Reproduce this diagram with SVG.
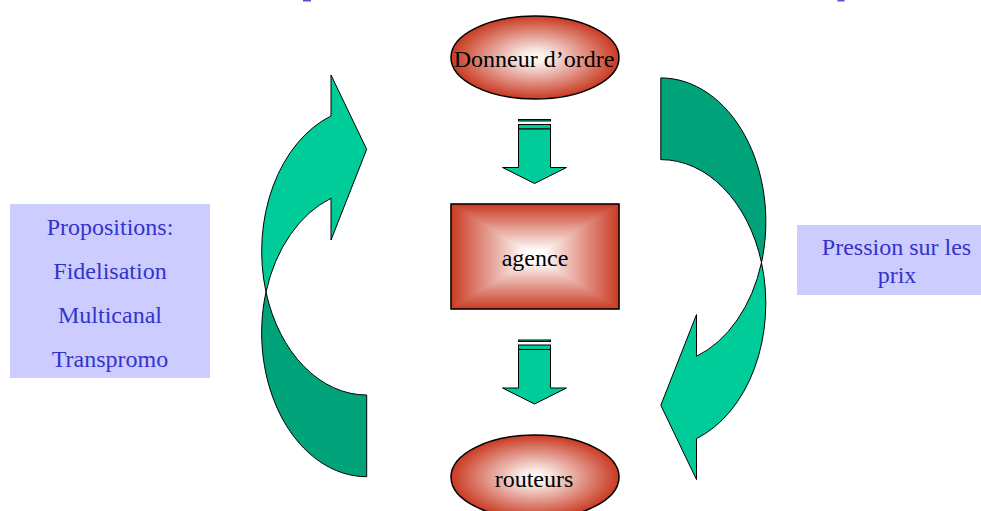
<svg xmlns="http://www.w3.org/2000/svg" width="981" height="511" viewBox="0 0 981 511">
  <defs>
    <radialGradient id="ellGrad" cx="50%" cy="50%" r="50%">
      <stop offset="0" stop-color="#FFFFFF"/>
      <stop offset="0.2" stop-color="#F7E4E0"/>
      <stop offset="1" stop-color="#C93A22"/>
    </radialGradient>
    <radialGradient id="rectBase" cx="50%" cy="50%" r="60%">
      <stop offset="0" stop-color="#FFFFFF"/>
      <stop offset="1" stop-color="#C93A22"/>
    </radialGradient>
    <linearGradient id="gTop" gradientUnits="userSpaceOnUse" x1="0" y1="204" x2="0" y2="256.5">
      <stop offset="0" stop-color="#C93A22"/><stop offset="0.9" stop-color="#FFFFFF"/>
    </linearGradient>
    <linearGradient id="gBot" gradientUnits="userSpaceOnUse" x1="0" y1="309" x2="0" y2="256.5">
      <stop offset="0" stop-color="#C93A22"/><stop offset="0.9" stop-color="#FFFFFF"/>
    </linearGradient>
    <linearGradient id="gLeft" gradientUnits="userSpaceOnUse" x1="451" y1="0" x2="535" y2="0">
      <stop offset="0" stop-color="#C93A22"/><stop offset="0.9" stop-color="#FFFFFF"/>
    </linearGradient>
    <linearGradient id="gRight" gradientUnits="userSpaceOnUse" x1="619" y1="0" x2="535" y2="0">
      <stop offset="0" stop-color="#C93A22"/><stop offset="0.9" stop-color="#FFFFFF"/>
    </linearGradient>
  </defs>
  <style>
    .lbl { font-family: "Liberation Serif", "Times New Roman", serif; font-size: 24px; fill: #000000; text-anchor: middle; }
    .blue { font-family: "Liberation Serif", "Times New Roman", serif; font-size: 24px; fill: #3333CC; text-anchor: middle; }
    .note { fill: #CCCCFF; stroke: none; }
    .ell { fill: url(#ellGrad); stroke: #000000; stroke-width: 1.5; }
    .arr { fill: #00CC99; stroke: #000000; stroke-width: 1; stroke-linejoin: miter; }
    .dark { fill: #00A37A; stroke: #000000; stroke-width: 1; }
    .light { fill: #00CC99; stroke: #000000; stroke-width: 1; }
  </style>
  <rect width="981" height="511" fill="#FFFFFF"/>

  <!-- cut-off title fragments -->
  <rect x="303" y="0" width="8" height="1.5" fill="#5555CC"/>
  <rect x="837.5" y="0" width="7" height="1.5" fill="#5555CC"/>

  <g id="connectors">
    <g id="arrow-down-1">
      <rect class="arr" x="518.5" y="119.5" width="32" height="1.5"/>
      <rect class="arr" x="518.5" y="124.5" width="32" height="4.5"/>
      <path class="arr" d="M518.5,129 L550.5,129 L550.5,167.5 L566.5,167.5 L534.5,183.5 L502.5,167.5 L518.5,167.5 Z"/>
    </g>
    <g id="arrow-down-2" transform="translate(0,220.5)">
      <rect class="arr" x="518.5" y="119.5" width="32" height="1.5"/>
      <rect class="arr" x="518.5" y="124.5" width="32" height="4.5"/>
      <path class="arr" d="M518.5,129 L550.5,129 L550.5,167.5 L566.5,167.5 L534.5,183.5 L502.5,167.5 L518.5,167.5 Z"/>
    </g>
    <g id="curved-left">
      <path class="dark" d="M366.7,476.7 L366.7,395 A105 143.8 0 0 1 266,292 A105 143.8 0 0 0 366.7,476.7 Z"/>
      <path class="light" d="M331,116 L331,75 L366.7,149.3 L331,240 L331,198.3 A105 143.8 0 0 0 266,292 A105 143.8 0 0 1 331,116 Z"/>
    </g>
    <g id="curved-right" transform="translate(1027.5,554.6) rotate(180)">
      <path class="dark" d="M366.7,476.7 L366.7,395 A105 143.8 0 0 1 266,292 A105 143.8 0 0 0 366.7,476.7 Z"/>
      <path class="light" d="M331,116 L331,75 L366.7,149.3 L331,240 L331,198.3 A105 143.8 0 0 0 266,292 A105 143.8 0 0 1 331,116 Z"/>
    </g>
  </g>

  <g id="donneur">
    <ellipse class="ell" cx="535" cy="57.5" rx="84" ry="41.5"/>
    <text class="lbl" x="534" y="67">Donneur d’ordre</text>
  </g>

  <g id="agence">
    <rect x="451" y="204" width="168" height="105" fill="url(#rectBase)"/>
    <g stroke-width="0.6">
      <polygon points="451,204 619,204 535,256.5" fill="url(#gTop)" stroke="url(#gTop)"/>
      <polygon points="451,309 619,309 535,256.5" fill="url(#gBot)" stroke="url(#gBot)"/>
      <polygon points="451,204 451,309 535,256.5" fill="url(#gLeft)" stroke="url(#gLeft)"/>
      <polygon points="619,204 619,309 535,256.5" fill="url(#gRight)" stroke="url(#gRight)"/>
    </g>
    <rect x="451" y="204" width="168" height="105" fill="none" stroke="#000000" stroke-width="1.5"/>
    <text class="lbl" x="535" y="266">agence</text>
  </g>

  <g id="routeurs">
    <ellipse class="ell" cx="535" cy="477" rx="84" ry="42"/>
    <text class="lbl" x="534" y="487">routeurs</text>
  </g>

  <g id="propositions">
    <rect class="note" x="10" y="204" width="200" height="174"/>
    <text class="blue" x="110" y="235">Propositions:</text>
    <text class="blue" x="110" y="279">Fidelisation</text>
    <text class="blue" x="110" y="323">Multicanal</text>
    <text class="blue" x="110" y="367">Transpromo</text>
  </g>

  <g id="pression">
    <rect class="note" x="797" y="225" width="184" height="70"/>
    <text class="blue" x="896.5" y="255">Pression sur les</text>
    <text class="blue" x="897" y="283">prix</text>
  </g>
</svg>
